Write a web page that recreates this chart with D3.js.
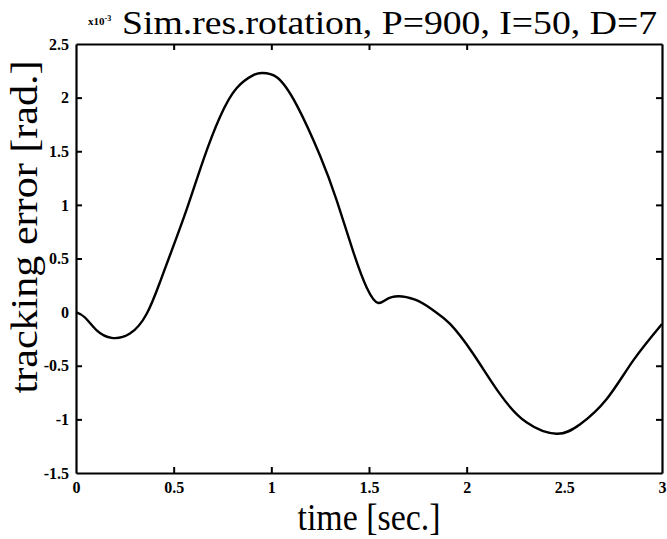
<!DOCTYPE html>
<html>
<head>
<meta charset="utf-8">
<script src="https://cdn.jsdelivr.net/npm/d3@7"></script>
<style>
  body { margin: 0; background: #fff; }
  svg text { font-family: "Liberation Serif", "Times New Roman", serif; fill: #000; }
  .tick-label { font-weight: bold; font-size: 16px; }
</style>
</head>
<body>
<div id="chart"></div>
<script>
const times  = [0, 0.046, 0.106, 0.183, 0.276, 0.362, 0.43, 0.481, 0.567, 0.652, 0.737, 0.823, 0.908, 0.951,
                1.028, 1.13, 1.249, 1.335, 1.42, 1.488, 1.548, 1.616, 1.736, 1.83, 1.915, 2.034, 2.171,
                2.308, 2.461, 2.581, 2.717, 2.853, 3.0];
const errors = [0, -0.05, -0.17, -0.24, -0.2, -0.015, 0.28, 0.53, 0.96, 1.42, 1.82, 2.09, 2.21, 2.23,
                2.19, 1.93, 1.46, 1.04, 0.56, 0.23, 0.085, 0.14, 0.116, 0.016, -0.11, -0.39, -0.765,
                -1.03, -1.134, -1.046, -0.81, -0.45, -0.11];
const xTicks = [0, 0.5, 1, 1.5, 2, 2.5, 3];
const yTicks = [-1.5, -1, -0.5, 0, 0.5, 1, 1.5, 2, 2.5];

const W = 667, H = 539;
const margin = {top: 44, right: 5, bottom: 66, left: 76};
const width = W - margin.left - margin.right;
const height = H - margin.top - margin.bottom;

const svg = d3.select("#chart").append("svg")
    .attr("width", W)
    .attr("height", H);

const g = svg.append("g")
    .attr("transform", `translate(${margin.left},${margin.top})`);

const x = d3.scaleLinear().domain([0, 3]).range([0, width]);
const y = d3.scaleLinear().domain([-1.5, 2.5]).range([height, 0]);

// inward ticks on all four sides, labels only left and bottom
const fmt = d => String(d);
g.append("g").attr("transform", `translate(0,${height})`)
    .call(d3.axisBottom(x).tickValues(xTicks).tickSizeInner(-6).tickSizeOuter(0).tickPadding(9).tickFormat(fmt))
    .attr("class", "x-axis");
g.append("g")
    .call(d3.axisTop(x).tickValues(xTicks).tickSizeInner(-6).tickSizeOuter(0).tickFormat(""));
g.append("g")
    .call(d3.axisLeft(y).tickValues(yTicks).tickSizeInner(-6).tickSizeOuter(0).tickPadding(7).tickFormat(fmt))
    .attr("class", "y-axis");
g.append("g").attr("transform", `translate(${width},0)`)
    .call(d3.axisRight(y).tickValues(yTicks).tickSizeInner(-6).tickSizeOuter(0).tickFormat(""));

g.selectAll(".domain").attr("stroke", "#000").attr("stroke-width", 2.2);
g.selectAll(".tick line").attr("stroke", "#000").attr("stroke-width", 2);
g.selectAll(".tick text").attr("class", "tick-label").attr("font-family", null).attr("font-size", null);

// the end ticks on the box edges are not drawn
g.selectAll(".tick").filter(d => d === 0 || d === 3 || d === -1.5 || d === 2.5).select("line").remove();

// curve
const line = d3.line()
    .x((d, i) => x(times[i]))
    .y(d => y(d))
    .curve(d3.curveNatural);

g.append("path")
    .datum(errors)
    .attr("fill", "none")
    .attr("stroke", "#000")
    .attr("stroke-width", 2.4)
    .attr("d", line);

// title
svg.append("text")
    .attr("x", 122).attr("y", 34)
    .attr("font-size", 33)
    .attr("textLength", 535)
    .attr("lengthAdjust", "spacingAndGlyphs")
    .text("Sim.res.rotation, P=900, I=50, D=7");

const expo = svg.append("text")
    .attr("x", 88).attr("y", 25)
    .attr("font-size", 11)
    .attr("font-weight", "bold")
    .text("x10");
expo.append("tspan").attr("dy", -4).attr("font-size", 8).text("-3");

// axis labels
svg.append("text")
    .attr("x", margin.left + width / 2).attr("y", 530)
    .attr("text-anchor", "middle")
    .attr("font-size", 37)
    .attr("textLength", 143)
    .attr("lengthAdjust", "spacingAndGlyphs")
    .text("time [sec.]");

svg.append("text")
    .attr("transform", "translate(37,227) rotate(-90)")
    .attr("text-anchor", "middle")
    .attr("font-size", 37)
    .attr("textLength", 333)
    .attr("lengthAdjust", "spacingAndGlyphs")
    .text("tracking error [rad.]");
</script>
</body>
</html>
